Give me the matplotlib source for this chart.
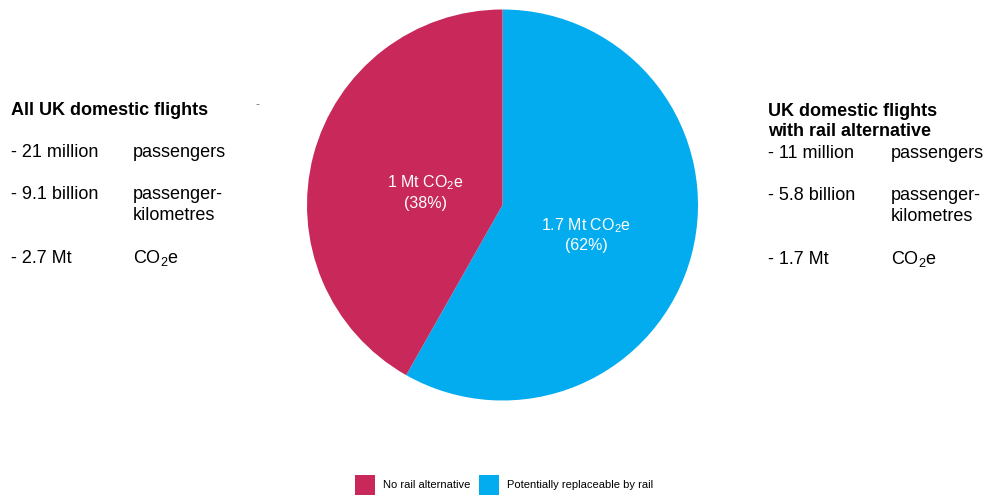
import numpy as np
import matplotlib.pyplot as plt
from matplotlib.patches import Patch

plt.rcParams['font.family'] = ['Liberation Sans', 'DejaVu Sans']
plt.rcParams['mathtext.fontset'] = 'custom'
plt.rcParams['mathtext.rm'] = 'Liberation Sans'
plt.rcParams['mathtext.default'] = 'regular'

# slice shares as drawn in the picture (blue first, clockwise from top)
segments = ['Potentially replaceable by rail', 'No rail alternative']
drawn_share = [58.2, 41.8]
slice_text = [['1.7 Mt CO$_2$e', '(62%)'], ['1 Mt CO$_2$e', '(38%)']]
colors = ['#03ACEE', '#C8295A']

left_title = ['All UK domestic flights']
left_amounts = ['- 21 million', '- 9.1 billion', '- 2.7 Mt']
right_title = ['UK domestic flights', 'with rail alternative']
right_amounts = ['- 11 million', '- 5.8 billion', '- 1.7 Mt']
units = [['passengers'], ['passenger-', 'kilometres'], ['CO$_2$e']]

W, H = 989, 497
fig = plt.figure(figsize=(W / 100, H / 100), dpi=100)

# pie axes: centre ~(502.5, 205) px, radius ~195.5 px
r = 195.5
ax = fig.add_axes([(502.5 - r) / W, (H - 205 - r) / H, 2 * r / W, 2 * r / H])
wedges, _ = ax.pie(drawn_share, colors=colors, startangle=90, counterclock=False,
                   radius=1, wedgeprops=dict(linewidth=0))
ax.set_xlim(-1, 1)
ax.set_ylim(-1, 1)
ax.set_aspect('equal')
ax.axis('off')

label_r = [0.455, 0.40]
label_turn = [-5.5, 6.0]
for w, lines, lr, turn in zip(wedges, slice_text, label_r, label_turn):
    mid = np.deg2rad((w.theta1 + w.theta2) / 2 + turn)
    x, y = lr * np.cos(mid), lr * np.sin(mid)
    for line, off in zip(lines, [4.3, -10.5]):
        ax.annotate(line, (x, y), xytext=(0, off), textcoords='offset points',
                    color='white', fontsize=11.5, ha='center', va='baseline')


def px(x, y):
    return x / W, 1 - y / H


fs = 13


def side_block(x0, x1, title, title_base, amounts, rows_base):
    for i, t in enumerate(title):
        fig.text(*px(x0, title_base + 20 * i), t, fontsize=fs, fontweight='bold',
                 ha='left', va='baseline')
    for a, u, yy in zip(amounts, units, rows_base):
        fig.text(*px(x0, yy), a, fontsize=fs, ha='left', va='baseline')
        for j, line in enumerate(u):
            fig.text(*px(x1, yy + 21 * j), line, fontsize=fs, ha='left', va='baseline')


side_block(11, 133, left_title, 115, left_amounts, [157, 199, 263])
side_block(768, 891, right_title, 116, right_amounts, [158, 200, 264])
fig.text(*px(257, 105), '-', fontsize=9, color='#777777', ha='center', va='center')

handles = [Patch(facecolor=colors[1], edgecolor='none'), Patch(facecolor=colors[0], edgecolor='none')]
fig.legend(handles, [segments[1], segments[0]], ncol=2, frameon=False,
           loc='center', bbox_to_anchor=px(504, 485), fontsize=8,
           handlelength=1.8, handleheight=2.4, handletextpad=0.7, columnspacing=0.8)

fig.savefig('out.png', dpi=100, facecolor='white')
